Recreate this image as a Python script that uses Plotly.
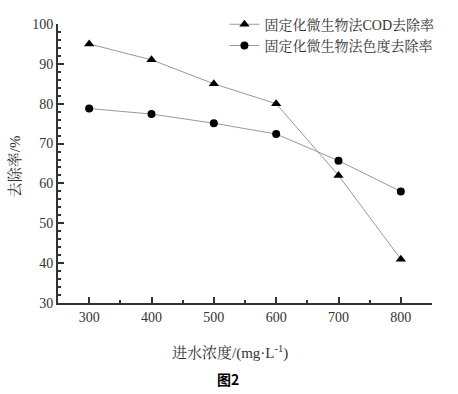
import plotly.graph_objects as go

concentration = [300, 400, 500, 600, 700, 800]
cod_removal = [95, 91, 85, 80, 62, 41]
color_removal = [78.8, 77.4, 75.1, 72.4, 65.7, 58]

serif = "Liberation Serif, Noto Serif CJK SC, Noto Sans CJK SC, serif"

fig = go.Figure()
fig.add_trace(go.Scatter(
    x=concentration, y=cod_removal, mode="lines+markers",
    name="固定化微生物法COD去除率",
    line=dict(color="#999999", width=1),
    marker=dict(symbol="triangle-up", size=9, color="black"),
))
fig.add_trace(go.Scatter(
    x=concentration, y=color_removal, mode="lines+markers",
    name="固定化微生物法色度去除率",
    line=dict(color="#999999", width=1),
    marker=dict(symbol="circle", size=8, color="black"),
))

axis_common = dict(
    showline=True, linecolor="#333333", linewidth=2,
    ticks="inside", ticklen=6, tickwidth=1.5, tickcolor="#333333",
    showgrid=False, zeroline=False,
    tickfont=dict(family=serif, size=14, color="#333333"),
    minor=dict(ticks="inside", ticklen=3, tickwidth=1.5, tickcolor="#333333"),
)

fig.update_xaxes(range=[250, 850], tickvals=[300, 400, 500, 600, 700, 800],
                 **axis_common)
fig.update_yaxes(range=[30, 100], dtick=10, **axis_common)

fig.update_layout(
    width=458, height=394, autosize=False,
    margin=dict(l=58, r=26, t=24, b=91, autoexpand=False),
    plot_bgcolor="white", paper_bgcolor="white",
    showlegend=True,
    legend=dict(x=0.445, y=1.055, xanchor="left", yanchor="top",
                bgcolor="rgba(0,0,0,0)", tracegroupgap=0,
                font=dict(family=serif, size=14, color="#333333"),
                itemwidth=30),
    annotations=[
        dict(text="去除率/%", xref="paper", yref="paper", x=-0.115, y=0.49,
             xanchor="center", yanchor="middle",
             textangle=-90, showarrow=False,
             font=dict(family=serif, size=15, color="#333333")),
        dict(text="进水浓度/(mg·L<sup>-1</sup>)", xref="paper", yref="paper",
             x=0.46, y=-0.176, xanchor="center", yanchor="middle", showarrow=False,
             font=dict(family=serif, size=15, color="#333333")),
        dict(text="<b>图2</b>", xref="paper", yref="paper",
             x=0.455, y=-0.272, xanchor="center", yanchor="middle", showarrow=False,
             font=dict(family="Noto Sans CJK SC, sans-serif", size=14, color="black")),
    ],
)

fig.write_html("out.html", config={"displayModeBar": False},
               post_script="document.body.style.margin='0px';")
